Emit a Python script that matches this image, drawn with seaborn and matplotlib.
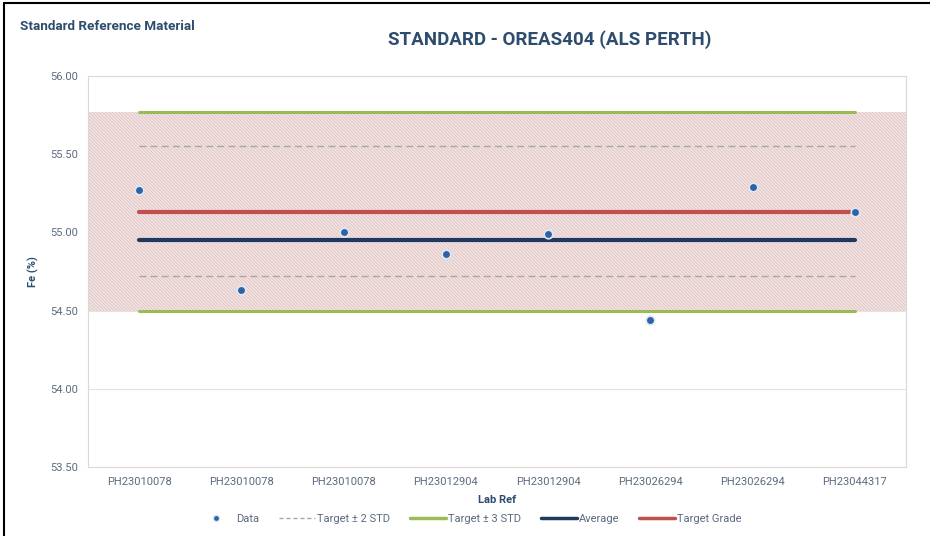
import matplotlib
matplotlib.use("Agg")
import matplotlib.pyplot as plt
import seaborn as sns
import numpy as np
import pandas as pd
from matplotlib.lines import Line2D

# ---- data ----
lab_refs = ["PH23010078", "PH23010078", "PH23010078", "PH23012904",
            "PH23012904", "PH23026294", "PH23026294", "PH23044317"]
fe_values = [55.27, 54.63, 55.00, 54.86, 54.99, 54.44, 55.29, 55.13]
target_grade = 55.13
average = 54.95
upper_2std = 55.55
lower_2std = 54.72
upper_3std = 55.77
lower_3std = 54.50
y_ticks = [53.50, 54.00, 54.50, 55.00, 55.50, 56.00]

sns.set_theme(style="white")
plt.rcParams['font.family'] = ['Roboto', 'DejaVu Sans']
plt.rcParams['hatch.linewidth'] = 0.5

TXT = "#5B6B80"
NAVY = "#2E4C6E"

pos = np.arange(len(lab_refs))
df = pd.DataFrame({"pos": pos, "ref": lab_refs, "fe": fe_values,
                   "tg": [target_grade] * len(pos), "avg": [average] * len(pos),
                   "u2": [upper_2std] * len(pos), "l2": [lower_2std] * len(pos),
                   "u3": [upper_3std] * len(pos), "l3": [lower_3std] * len(pos)})

fig = plt.figure(figsize=(9.3, 5.36), dpi=100)
ax = fig.add_axes([88 / 930, 1 - 467 / 536, (906 - 88) / 930, (467 - 76) / 536])

# shaded 3-STD band across the plot area
ax.axhspan(lower_3std, upper_3std, facecolor="#f2e3e3", edgecolor="#dfbdbd",
           hatch="\\" * 10, linewidth=0, zorder=1)

for col, color, ls, lw in [("u3", "#9BBB59", "-", 2.2), ("l3", "#9BBB59", "-", 2.2),
                           ("u2", "#A6A6A6", (0, (5, 3)), 1.0), ("l2", "#A6A6A6", (0, (5, 3)), 1.0),
                           ("avg", "#1F3A60", "-", 3.0), ("tg", "#C0504D", "-", 3.0)]:
    sns.lineplot(data=df, x="pos", y=col, ax=ax, color=color, linestyle=ls,
                 linewidth=lw, zorder=3)

sns.scatterplot(data=df, x="pos", y="fe", ax=ax, color="#2E62A8", s=38,
                edgecolor="#dfe7f1", linewidth=1.2, zorder=5)

ax.set_xlim(-0.5, 7.5)
ax.set_ylim(53.5, 56.0)
ax.set_yticks(y_ticks)
ax.set_yticklabels([f"{v:.2f}" for v in y_ticks], color=TXT, fontsize=8)
ax.set_xticks(pos)
ax.set_xticklabels(lab_refs, color=TXT, fontsize=8)
ax.tick_params(axis="both", length=0, pad=7)
ax.grid(axis="y", color="#E3E3E3", linewidth=0.8, zorder=0)
ax.set_axisbelow(True)
for s in ax.spines.values():
    s.set_color("#D9D9D9")
    s.set_linewidth(0.8)

ax.set_xlabel("Lab Ref", color=NAVY, fontsize=8, fontweight="bold", labelpad=6)
ax.set_ylabel("Fe (%)", color=NAVY, fontsize=8, fontweight="bold", labelpad=8)

fig.text(550 / 930, 1 - 40 / 536, "STANDARD - OREAS404 (ALS PERTH)", ha="center",
         va="center", fontsize=13.5, fontweight="bold", color=NAVY)
fig.text(20 / 930, 1 - 27 / 536, "Standard Reference Material", ha="left",
         va="center", fontsize=9.7, fontweight="bold", color=NAVY)

handles = [
    Line2D([], [], marker="o", linestyle="none", color="#2E62A8", markersize=4.5,
           markeredgecolor="#dfe7f1"),
    Line2D([], [], color="#A6A6A6", linestyle=(0, (3, 2)), linewidth=1.0),
    Line2D([], [], color="#9BBB59", linewidth=2.5),
    Line2D([], [], color="#1F3A60", linewidth=2.5),
    Line2D([], [], color="#C0504D", linewidth=2.5),
]
labels = ["Data", "Target \u00b1 2 STD", "Target \u00b1 3 STD", "Average", "Target Grade"]
leg = fig.legend(handles, labels, loc="center", bbox_to_anchor=(470 / 930, 1 - 519 / 536),
                 ncol=5, frameon=False, fontsize=8, handlelength=3.2,
                 handletextpad=0.2, columnspacing=1.8)
for t in leg.get_texts():
    t.set_color(TXT)

# image frame (left and top edges)
fig.add_artist(Line2D([3.5 / 930, 3.5 / 930], [0, 1 - 3 / 536], color="black", linewidth=1.5))
fig.add_artist(Line2D([3.5 / 930, 1], [1 - 3 / 536, 1 - 3 / 536], color="black", linewidth=1.5))

fig.savefig("out.png", dpi=100)
